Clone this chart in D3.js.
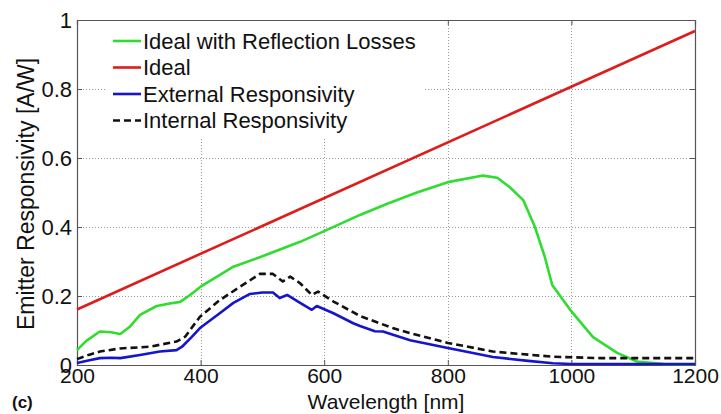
<!DOCTYPE html>
<html><head><meta charset="utf-8">
<script src="https://cdn.jsdelivr.net/npm/d3@7"></script>
<style>body{margin:0;background:#fff}svg{display:block;font-family:"Liberation Sans",Arial,sans-serif}</style>
</head><body>
<script>
const xTicks = [200, 400, 600, 800, 1000, 1200];
const yTicks = [0, 0.2, 0.4, 0.6, 0.8, 1];
const yTickLabels = ["0", "0.2", "0.4", "0.6", "0.8", "1"];

const idealWl = [200, 1200];
const idealR = [0.161, 0.968];

const greenWl = [200, 215, 237, 255, 270, 285, 302, 329, 350, 367, 383, 400, 430, 453, 500, 561, 600, 658, 700, 750, 800, 857, 880, 900, 922, 941, 957, 969, 998, 1035, 1074, 1106, 1150, 1200];
const greenR = [0.043, 0.07, 0.097, 0.095, 0.09, 0.11, 0.145, 0.171, 0.178, 0.183, 0.203, 0.227, 0.26, 0.285, 0.315, 0.357, 0.388, 0.435, 0.466, 0.50, 0.53, 0.549, 0.543, 0.516, 0.478, 0.40, 0.313, 0.232, 0.16, 0.081, 0.035, 0.01, 0.003, 0.002];

const blueWl = [200, 220, 237, 255, 270, 302, 334, 361, 370, 385, 399, 431, 453, 480, 500, 517, 528, 540, 561, 580, 588, 615, 647, 658, 682, 695, 739, 800, 873, 930, 970, 1000, 1200];
const blueR = [0.006, 0.014, 0.02, 0.021, 0.02, 0.029, 0.039, 0.043, 0.053, 0.08, 0.107, 0.15, 0.18, 0.206, 0.21, 0.21, 0.194, 0.203, 0.18, 0.16, 0.171, 0.15, 0.121, 0.113, 0.098, 0.097, 0.072, 0.049, 0.023, 0.012, 0.005, 0.003, 0.003];

const internalWl = [200, 220, 237, 270, 318, 361, 375, 399, 431, 464, 496, 517, 533, 545, 561, 580, 590, 615, 658, 711, 739, 800, 873, 930, 970, 1046, 1200];
const internalR = [0.017, 0.03, 0.039, 0.048, 0.053, 0.068, 0.082, 0.14, 0.188, 0.227, 0.264, 0.264, 0.242, 0.256, 0.237, 0.203, 0.213, 0.184, 0.142, 0.107, 0.092, 0.064, 0.039, 0.03, 0.024, 0.02, 0.02];

const seriesNames = ["Ideal with Reflection Losses", "Ideal", "External Responsivity", "Internal Responsivity"];

const W = 721, H = 414;
const m = {l: 77, r: 26, t: 20, b: 49};
const svg = d3.select("body").append("svg").attr("width", W).attr("height", H);
const x = d3.scaleLinear().domain([200, 1200]).range([m.l, W - m.r]);
const y = d3.scaleLinear().domain([0, 1]).range([H - m.b, m.t]);

// grid
const grid = svg.append("g").attr("stroke", "#999").attr("stroke-width", 1).attr("stroke-dasharray", "1,2");
grid.selectAll(".gx").data(xTicks.slice(1, -1)).enter().append("line")
  .attr("x1", d => Math.round(x(d)) + 0.5).attr("x2", d => Math.round(x(d)) + 0.5)
  .attr("y1", y(0)).attr("y2", y(1));
grid.selectAll(".gy").data(yTicks.slice(1, -1)).enter().append("line")
  .attr("y1", d => Math.round(y(d)) + 0.5).attr("y2", d => Math.round(y(d)) + 0.5)
  .attr("x1", x(200)).attr("x2", x(1200));

// axes
const fs = "22px";
const ax = svg.append("g").attr("transform", `translate(0,${y(0)})`)
  .call(d3.axisBottom(x).tickValues(xTicks).tickSize(-5).tickPadding(3).tickFormat(d3.format("d")));
const axT = svg.append("g").attr("transform", `translate(0,${y(1)})`)
  .call(d3.axisTop(x).tickValues(xTicks).tickSize(-5).tickFormat(""));
const ay = svg.append("g").attr("transform", `translate(${x(200)},0)`)
  .call(d3.axisLeft(y).tickValues(yTicks).tickSize(-5).tickPadding(5).tickFormat((d, i) => yTickLabels[i]));
const ayR = svg.append("g").attr("transform", `translate(${x(1200)},0)`)
  .call(d3.axisRight(y).tickValues(yTicks).tickSize(-5).tickFormat(""));
[ax, axT, ay, ayR].forEach(g => {
  g.select(".domain").attr("stroke", "#555").attr("stroke-width", 1.2);
  g.selectAll(".tick line").attr("stroke", "#555");
  g.selectAll("text").attr("fill", "#111").style("font-size", fs).style("font-family", "'Liberation Sans',Arial,sans-serif");
});
ax.selectAll("text").style("font-size", "21px");

// lines
const line = d3.line().x(d => x(d[0])).y(d => y(d[1]));
const zip = (a, b) => a.map((v, i) => [v, b[i]]);
const lines = svg.append("g").attr("fill", "none").attr("stroke-width", 2.6).attr("stroke-linejoin", "round");
lines.append("path").datum(zip(idealWl, idealR)).attr("d", line).attr("stroke", "#dd1c1c");
lines.append("path").datum(zip(greenWl, greenR)).attr("d", line).attr("stroke", "#2fdc2f");
lines.append("path").datum(zip(internalWl, internalR)).attr("d", line).attr("stroke", "#111").attr("stroke-dasharray", "7,4");
lines.append("path").datum(zip(blueWl, blueR)).attr("d", line).attr("stroke", "#1515cc");

// legend
const lg = svg.append("g");
lg.append("rect").attr("x", 107).attr("y", 21).attr("width", 318).attr("height", 116).attr("fill", "#fff");
const legColors = ["#2fdc2f", "#dd1c1c", "#1515cc", "#111"];
const legDash = [null, null, null, "7,4"];
seriesNames.forEach((n, i) => {
  const yy = 41 + i * 26.5;
  lg.append("line").attr("x1", 113).attr("x2", 141).attr("y1", yy).attr("y2", yy)
    .attr("stroke", legColors[i]).attr("stroke-width", 2.6).attr("stroke-dasharray", legDash[i]);
  lg.append("text").attr("x", 143).attr("y", yy).attr("dy", "0.36em").style("font-size", fs).attr("fill", "#111").text(n);
});

// labels
svg.append("text").attr("x", (x(200) + x(1200)) / 2).attr("y", 409).attr("text-anchor", "middle")
  .style("font-size", "21px").attr("fill", "#111").text("Wavelength [nm]");
svg.append("text").attr("transform", `translate(34,194) rotate(-90)`).attr("text-anchor", "middle")
  .style("font-size", "23px").attr("fill", "#111").text("Emitter Responsivity [A/W]");
svg.append("text").attr("x", 12).attr("y", 408).style("font-size", "17px").style("font-weight", "bold").attr("fill", "#111").text("(c)");
</script>
</body></html>
